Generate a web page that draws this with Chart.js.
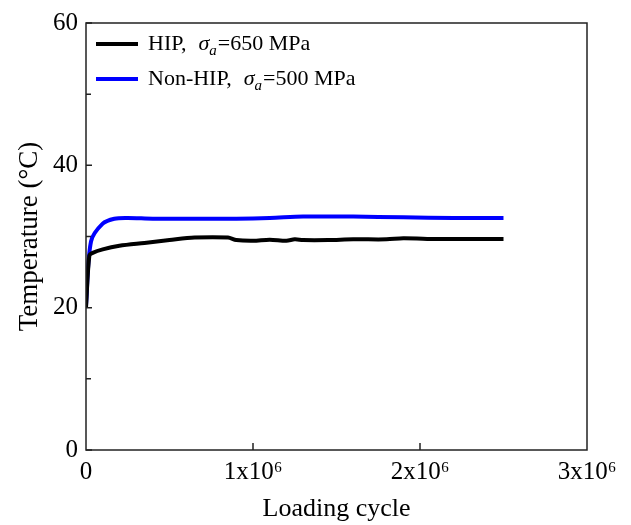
<!DOCTYPE html>
<html>
<head>
<meta charset="utf-8">
<script src="https://cdn.jsdelivr.net/npm/chart.js@4.4.1/dist/chart.umd.min.js"></script>
<style>
  html, body { margin: 0; padding: 0; background: #fff; }
  #wrap { width: 631px; height: 525px; }
</style>
</head>
<body>
<div id="wrap"><canvas id="c" width="631" height="525"></canvas></div>
<script>
// values
const hipCycles = [0, 20000, 40000, 100000, 200000, 350000, 500000, 650000, 850000, 900000, 1000000, 1100000, 1200000, 1250000, 1300000, 1450000, 1600000, 1800000, 1900000, 2100000, 2300000, 2500000];
const hipTemp   = [20, 27.3, 27.7, 28.2, 28.7, 29.1, 29.5, 29.85, 29.85, 29.5, 29.4, 29.55, 29.4, 29.6, 29.5, 29.5, 29.6, 29.6, 29.75, 29.65, 29.65, 29.65];

const nonHipCycles = [0, 30000, 100000, 170000, 250000, 400000, 700000, 900000, 1100000, 1300000, 1600000, 1900000, 2200000, 2500000];
const nonHipTemp   = [20.3, 29.3, 31.8, 32.5, 32.6, 32.5, 32.5, 32.5, 32.6, 32.8, 32.8, 32.7, 32.6, 32.6];

const yTicks = [0, 20, 40, 60];
const yMinorTicks = [10, 30, 50];
const xTicks = [0, 1000000, 2000000, 3000000];

// legend text pieces: [series name, stress value]
const legendNames = ['HIP,', 'Non-HIP,'];
const legendStress = ['=650 MPa', '=500 MPa'];
const colors = ['#000000', '#0000ff'];

const FONT = '"Liberation Serif", "Times New Roman", serif';

function toPoints(xs, ys) {
  return xs.map((x, i) => ({ x: x, y: ys[i] }));
}

// frame, inward ticks and the legend
const decorations = {
  id: 'decorations',
  afterDraw(chart) {
    const ctx = chart.ctx;
    const a = chart.chartArea;
    const xs = chart.scales.x, ys = chart.scales.y;
    ctx.save();
    ctx.strokeStyle = '#222';
    ctx.lineWidth = 1.5;
    ctx.strokeRect(a.left, a.top, a.right - a.left, a.bottom - a.top);

    ctx.beginPath();
    yTicks.forEach(v => {
      const p = ys.getPixelForValue(v);
      ctx.moveTo(a.left, p); ctx.lineTo(a.left + 6, p);
    });
    yMinorTicks.forEach(v => {
      const p = ys.getPixelForValue(v);
      ctx.moveTo(a.left, p); ctx.lineTo(a.left + 5, p);
    });
    xTicks.slice(1, -1).forEach(v => {
      const p = xs.getPixelForValue(v);
      ctx.moveTo(p, a.bottom); ctx.lineTo(p, a.bottom - 7);
    });
    ctx.stroke();

    // legend
    ctx.textBaseline = 'middle';
    ctx.textAlign = 'left';
    for (let i = 0; i < 2; i++) {
      const y = a.top + 21 + i * 35;
      ctx.strokeStyle = colors[i];
      ctx.lineWidth = 4;
      ctx.beginPath();
      ctx.moveTo(a.left + 10, y); ctx.lineTo(a.left + 52, y);
      ctx.stroke();

      let x = a.left + 62;
      ctx.fillStyle = '#000';
      ctx.font = '22px ' + FONT;
      ctx.fillText(legendNames[i], x, y);
      x += ctx.measureText(legendNames[i]).width + 12;
      ctx.font = 'italic 22px ' + FONT;
      ctx.fillText('\u03C3', x, y);
      x += ctx.measureText('\u03C3').width;
      ctx.font = 'italic 15px ' + FONT;
      ctx.fillText('a', x, y + 7);
      x += ctx.measureText('a').width + 1;
      ctx.font = '22px ' + FONT;
      ctx.fillText(legendStress[i], x, y);
    }
    ctx.restore();
  }
};

new Chart(document.getElementById('c'), {
  type: 'line',
  data: {
    datasets: [
      {
        label: 'HIP',
        data: toPoints(hipCycles, hipTemp),
        borderColor: colors[0],
        borderWidth: 4,
        pointRadius: 0,
        tension: 0.3,
        fill: false
      },
      {
        label: 'Non-HIP',
        data: toPoints(nonHipCycles, nonHipTemp),
        borderColor: colors[1],
        borderWidth: 4,
        pointRadius: 0,
        tension: 0.3,
        fill: false
      }
    ]
  },
  options: {
    responsive: false,
    animation: false,
    layout: { padding: { top: 22, right: 44, left: 0, bottom: 0 } },
    plugins: { legend: { display: false }, tooltip: { enabled: false } },
    scales: {
      x: {
        type: 'linear',
        min: 0,
        max: 3000000,
        afterBuildTicks: s => { s.ticks = xTicks.map(v => ({ value: v })); },
        afterFit: s => { s.height = 75; },
        grid: { display: false, drawTicks: false },
        border: { display: false },
        ticks: {
          color: '#000',
          font: { family: FONT, size: 25 },
          padding: 7,
          maxRotation: 0,
          callback: v => v === 0 ? '0' : (v / 1000000) + 'x10\u2076'
        },
        title: {
          display: true,
          text: 'Loading cycle',
          color: '#000',
          font: { family: FONT, size: 26 },
          padding: { top: 4, bottom: 0 }
        }
      },
      y: {
        min: 0,
        max: 60,
        afterBuildTicks: s => { s.ticks = yTicks.map(v => ({ value: v })); },
        afterFit: s => { s.width = 86; },
        grid: { display: false, drawTicks: false },
        border: { display: false },
        ticks: {
          color: '#000',
          font: { family: FONT, size: 25 },
          padding: 8
        },
        title: {
          display: true,
          text: 'Temperature (\u00B0C)',
          color: '#000',
          font: { family: FONT, size: 27 },
          padding: { top: 14, bottom: 0 }
        }
      }
    }
  },
  plugins: [decorations]
});
</script>
</body>
</html>
